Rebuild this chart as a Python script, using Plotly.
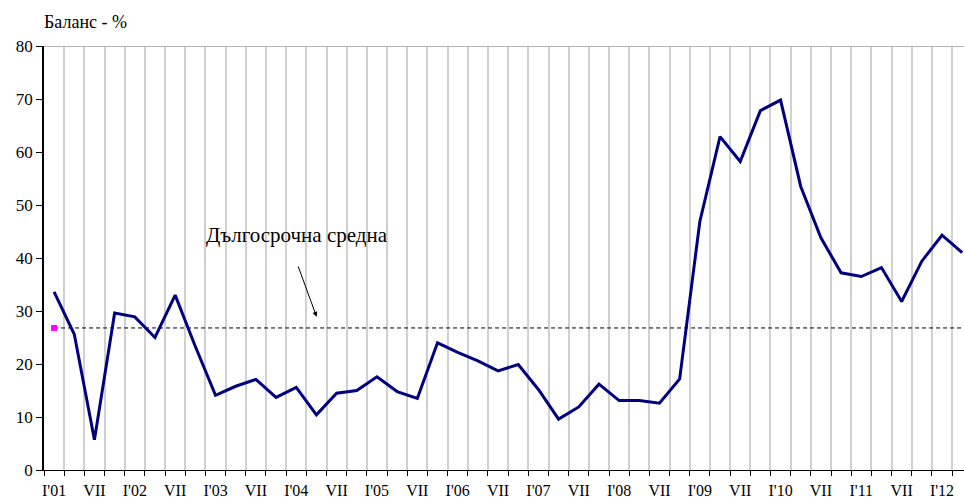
import plotly.graph_objects as go

# Quarterly balance, % (Q1 2001 .. Q2 2012)
balance = [33.6, 25.6, 5.7, 29.6, 28.9, 25.0, 33.0, 23.3, 14.1, 15.8, 17.1, 13.7,
           15.6, 10.4, 14.5, 15.0, 17.6, 14.8, 13.5, 24.0, 22.2, 20.6, 18.7, 19.9,
           15.2, 9.6, 11.9, 16.2, 13.1, 13.1, 12.6, 17.2, 46.9, 62.9, 58.2, 67.8,
           69.8, 53.5, 43.8, 37.2, 36.5, 38.2, 31.8, 39.4, 44.3, 41.0]
long_term_avg = 26.8

tick_labels = ["I'01", "VII", "I'02", "VII", "I'03", "VII", "I'04", "VII", "I'05", "VII",
               "I'06", "VII", "I'07", "VII", "I'08", "VII", "I'09", "VII", "I'10", "VII",
               "I'11", "VII", "I'12"]
y_ticks = [0, 10, 20, 30, 40, 50, 60, 70, 80]

n = len(balance)
x = list(range(n))
tick_pos = [2 * k for k in range(len(tick_labels))]
boundaries = [i - 0.5 for i in range(n + 1)]

FONT = "Liberation Serif"

fig = go.Figure()
fig.add_trace(go.Scatter(x=x, y=[long_term_avg] * n, mode="lines",
                         line=dict(color="black", width=1, dash="4px,3px"),
                         hoverinfo="skip", showlegend=False))
fig.add_trace(go.Scatter(x=[x[0]], y=[long_term_avg], mode="markers",
                         marker=dict(color="#ff00ff", symbol="square", size=6),
                         showlegend=False))
fig.add_trace(go.Scatter(x=x, y=balance, mode="lines",
                         line=dict(color="#000080", width=3),
                         showlegend=False))

fig.update_layout(
    width=964, height=501,
    margin=dict(l=44, r=0, t=46, b=31, autoexpand=False),
    paper_bgcolor="white", plot_bgcolor="white",
    font=dict(family=FONT, color="black"),
    xaxis=dict(range=[-0.5, 45.09], tickmode="array", tickvals=tick_pos, ticktext=tick_labels,
               ticks="", showgrid=False, zeroline=False, showline=True, linecolor="black",
               linewidth=1, tickfont=dict(size=16, family=FONT), ticklabelstandoff=6,
               automargin=False,
               minor=dict(tickmode="array", tickvals=boundaries, showgrid=True,
                          gridcolor="#d0d0d0", gridwidth=1.5, ticks="outside",
                          ticklen=5, tickcolor="black", tickwidth=1)),
    yaxis=dict(range=[0, 80], tickmode="array", tickvals=y_ticks, showgrid=False,
               zeroline=False, showline=True, linecolor="black", linewidth=1.5,
               ticks="outside", ticklen=6, tickcolor="black", automargin=False,
               tickfont=dict(size=17, family=FONT)),
    shapes=[dict(type="line", xref="paper", yref="y", x0=0, x1=1, y0=80, y1=80,
                 line=dict(color="#b4b4b4", width=2))],
    annotations=[
        dict(text="Баланс - %", xref="paper", yref="paper", x=-0.002, y=1.057,
             xanchor="left", yanchor="middle", showarrow=False,
             font=dict(size=18, family=FONT)),
        dict(text="Дългосрочна средна", xref="x", yref="y", x=12.04, y=44.3,
             xanchor="center", yanchor="middle", showarrow=False,
             font=dict(size=21, family=FONT)),
        dict(text="", xref="x", yref="y", x=13.01, y=28.9, showarrow=True,
             ax=-19, ay=-52, axref="pixel", ayref="pixel",
             arrowhead=2, arrowsize=1, arrowwidth=1, arrowcolor="black"),
    ],
)

fig.write_html("out.html", config={"displayModeBar": False},
               post_script="document.body.style.margin='0';"
                           "document.body.style.overflow='hidden';")
